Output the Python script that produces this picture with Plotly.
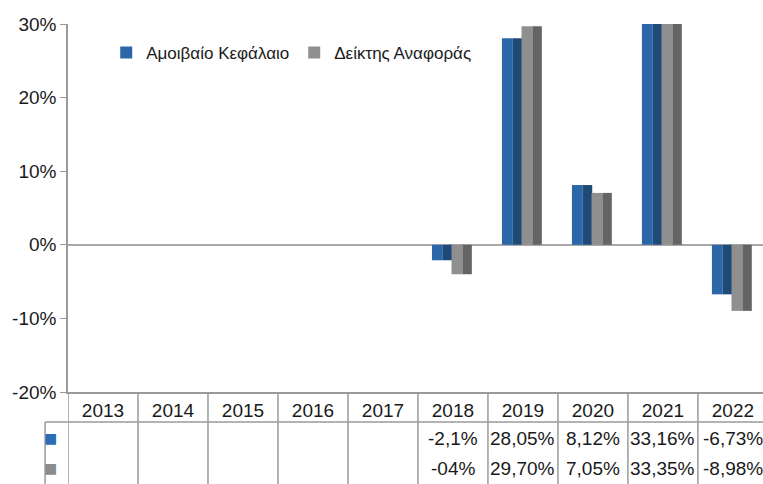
import plotly.graph_objects as go

years = ["2013", "2014", "2015", "2016", "2017", "2018", "2019", "2020", "2021", "2022"]
fund = [None, None, None, None, None, -2.1, 28.05, 8.12, 33.16, -6.73]
bench = [None, None, None, None, None, -4.0, 29.70, 7.05, 33.35, -8.98]
fund_labels = ["", "", "", "", "", "-2,1%", "28,05%", "8,12%", "33,16%", "-6,73%"]
bench_labels = ["", "", "", "", "", "-04%", "29,70%", "7,05%", "33,35%", "-8,98%"]
series_names = ["Αμοιβαίο Κεφάλαιο", "Δείκτης Αναφοράς"]
ytick_vals = [-20, -10, 0, 10, 20, 30]
ytick_text = ["-20%", "-10%", "0%", "10%", "20%", "30%"]

FONT = "Liberation Sans, Arial, sans-serif"
TXT = "#1a1a1a"
GRID = "#9a9a9a"

blue_light, blue_dark = "#2b66a8", "#1d4a76"
gray_light, gray_dark = "#8f8f8f", "#646464"

fig = go.Figure()
# each bar drawn as a lighter left half and a darker right half (bevel look)
specs = [
    (fund, series_names[0], blue_light, blue_dark, -0.30),
    (bench, series_names[1], gray_light, gray_dark, -0.02),
]
for vals, name, light, dark, off in specs:
    fig.add_trace(go.Bar(x=years, y=vals, name=name, marker=dict(color=light, line=dict(width=0)),
                         offset=off, width=0.155, showlegend=True, hoverinfo="skip"))
    fig.add_trace(go.Bar(x=years, y=vals, name=name, marker=dict(color=dark, line=dict(width=0)),
                         offset=off + 0.155, width=0.135, showlegend=False, hoverinfo="skip"))

shapes = []
# table grid: vertical lines at category boundaries
for k in range(len(years) + 1):
    shapes.append(dict(type="line", xref="x", yref="paper", x0=k - 0.5, x1=k - 0.5,
                       y0=0, y1=-0.26, line=dict(color=GRID, width=1.5)))
# horizontal line under header row (extends into row header column)
shapes.append(dict(type="line", xref="paper", yref="paper", x0=-0.033, x1=1.0,
                   y0=-0.0815, y1=-0.0815, line=dict(color=GRID, width=1.5)))
shapes.append(dict(type="line", xref="paper", yref="paper", x0=-0.033, x1=-0.033,
                   y0=-0.0815, y1=-0.26, line=dict(color=GRID, width=1.5)))

annotations = []
for i in range(len(years)):
    if fund_labels[i]:
        annotations.append(dict(x=i, y=-0.125, xref="x", yref="paper", text=fund_labels[i],
                                xanchor="center", yanchor="middle", showarrow=False,
                                font=dict(family=FONT, size=19, color=TXT)))
    if bench_labels[i]:
        annotations.append(dict(x=i, y=-0.207, xref="x", yref="paper", text=bench_labels[i],
                                xanchor="center", yanchor="middle", showarrow=False,
                                font=dict(family=FONT, size=19, color=TXT)))
annotations.append(dict(x=-0.0245, y=-0.125, xref="paper", yref="paper", text="■", showarrow=False,
                        xanchor="center", yanchor="middle",
                        font=dict(family="DejaVu Sans", size=14, color="#2e6db4")))
annotations.append(dict(x=-0.0245, y=-0.207, xref="paper", yref="paper", text="■", showarrow=False,
                        xanchor="center", yanchor="middle",
                        font=dict(family="DejaVu Sans", size=14, color="#8c8c8c")))

fig.update_layout(
    width=763, height=484,
    margin=dict(l=68, r=0, t=24, b=92),
    paper_bgcolor="white", plot_bgcolor="white",
    barmode="overlay",
    font=dict(family=FONT, size=19, color=TXT),
    showlegend=True,
    legend=dict(orientation="h", x=0.055, y=0.921, xanchor="left", yanchor="middle",
                font=dict(family=FONT, size=17, color=TXT), bgcolor="rgba(0,0,0,0)",
                itemwidth=30, traceorder="normal"),
    shapes=shapes,
    annotations=annotations,
)
fig.update_xaxes(type="category", range=[-0.5, 9.43], showgrid=False, showline=True,
                 linecolor=GRID, linewidth=1.5, ticks="", tickfont=dict(size=19, color=TXT),
                 fixedrange=True)
fig.update_yaxes(range=[-20, 30], tickvals=ytick_vals, ticktext=ytick_text, showgrid=False,
                 showline=True, linecolor=GRID, linewidth=1.5, ticks="outside", ticklen=6,
                 tickcolor=GRID, zeroline=True, zerolinecolor="#a8a8a8", zerolinewidth=2,
                 tickfont=dict(size=19, color=TXT), fixedrange=True)

fig.write_html("out.html")
